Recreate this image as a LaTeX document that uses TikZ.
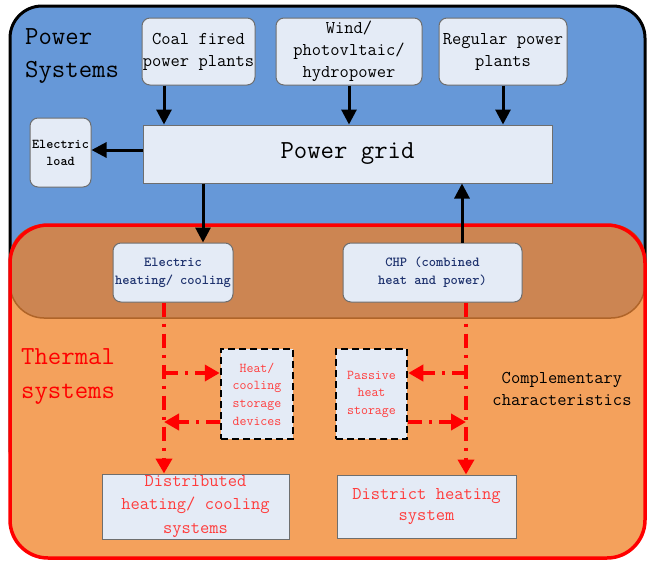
\documentclass[tikz,border=0pt]{standalone}
\usetikzlibrary{arrows.meta,calc}
\definecolor{bluebg}{RGB}{102,152,216}
\definecolor{orangebg}{RGB}{244,161,92}
\definecolor{brownbg}{RGB}{204,133,82}
\definecolor{brownline}{RGB}{176,100,40}
\definecolor{boxfill}{RGB}{228,235,246}
\definecolor{boxline}{RGB}{110,110,110}
\definecolor{navytext}{RGB}{30,50,110}
\definecolor{redtext}{RGB}{255,60,60}
\begin{document}
\begin{tikzpicture}[x=1pt,y=-1pt,
  box/.style={draw=boxline, line width=1pt, fill=boxfill, rounded corners=8pt, inner sep=0pt, align=center, font=\ttfamily},
  sqbox/.style={draw=boxline, line width=1pt, fill=boxfill, inner sep=0pt, align=center, font=\ttfamily},
  dbox/.style={draw=black, line width=2.5pt, dash pattern=on 7pt off 4pt, fill=boxfill, inner sep=0pt, align=center, font=\ttfamily, text=redtext},
  blk/.style={line width=3pt, -{Triangle[length=15pt,width=15pt]}},
  redl/.style={red, line width=4pt, dash pattern=on 14pt off 7pt on 3pt off 7pt, -{Triangle[length=15pt,width=16pt]}},
  lbl/.style={inner sep=0pt, font=\ttfamily}
]
\useasboundingbox (0,0) rectangle (648,563);
% backgrounds
\draw[line width=3pt, fill=bluebg, rounded corners=32pt] (10,6) rectangle (645,480);
\fill[orangebg, rounded corners=38pt] (10,225) rectangle (645,558);
\draw[fill=brownbg, draw=brownline, line width=1.5pt, rounded corners=34pt] (10,225) rectangle (645,318);
\draw[red, line width=3.5pt, rounded corners=38pt] (10,225) rectangle (645,558);

% section labels
\node[lbl, anchor=west, align=left, font=\ttfamily\fontsize{26}{33}\selectfont] (ps) at (25,56.5) {Power\\Systems};
\node[lbl, anchor=west, align=left, text=red, font=\ttfamily\fontsize{26}{34}\selectfont] (ts) at (21,377) {Thermal\\systems};
\node[lbl, align=center, font=\ttfamily\fontsize{18}{22}\selectfont] (cc) at (562,389) {Complementary\\characteristics};

% nodes
\node[box, minimum width=113pt, minimum height=67pt, font=\ttfamily\fontsize{18}{22}\selectfont] (coal) at (198.5,51.5) {Coal fired\\power plants};
\node[box, minimum width=146pt, minimum height=67pt, font=\ttfamily\fontsize{18}{22}\selectfont] (wind) at (349,51.5) {Wind/\\photovltaic/\\hydropower};
\node[box, minimum width=128pt, minimum height=67pt, font=\ttfamily\fontsize{18}{22}\selectfont] (reg) at (503,51.5) {Regular power\\plants};
\node[box, minimum width=61pt, minimum height=69pt, font=\ttfamily\bfseries\fontsize{13.5}{17}\selectfont] (eload) at (60.5,152.5) {Electric\\load};
\node[sqbox, minimum width=409pt, minimum height=58pt, font=\ttfamily\fontsize{26}{30}\selectfont] (grid) at (347.5,154) {Power grid};
\node[box, minimum width=120pt, minimum height=59pt, text=navytext, font=\ttfamily\bfseries\fontsize{13.8}{18}\selectfont] (eheat) at (173,272.5) {Electric\\heating/ cooling};
\node[box, minimum width=179pt, minimum height=59pt, text=navytext, font=\ttfamily\bfseries\fontsize{13.8}{18}\selectfont] (chp) at (432.5,272.5) {CHP (combined\\heat and power)};
\node[dbox, minimum width=72pt, minimum height=90pt, font=\ttfamily\fontsize{13.5}{17.7}\selectfont] (hst) at (257,394) {Heat/\\cooling\\storage\\devices};
\node[dbox, minimum width=71pt, minimum height=90pt, font=\ttfamily\fontsize{13.5}{17.5}\selectfont] (pst) at (371.5,394) {Passive\\heat\\storage};
\node[sqbox, minimum width=187pt, minimum height=65pt, text=redtext, font=\ttfamily\fontsize{18}{23.5}\selectfont] (dist) at (195.5,506.5) {Distributed\\heating/ cooling\\systems};
\node[sqbox, minimum width=179pt, minimum height=63pt, text=redtext, font=\ttfamily\fontsize{18}{21}\selectfont] (dh) at (426.5,506.5) {District heating\\system};

% black arrows
\draw[blk] ([xshift=-34.5pt]coal.south) -- ([xshift=-34.5pt]coal.south |- grid.north);
\draw[blk] (wind.south) -- (wind.south |- grid.north);
\draw[blk] (reg.south) -- (reg.south |- grid.north);
\draw[blk] ([yshift=4pt]grid.west) -- ([yshift=4pt]grid.west -| eload.east);
\draw[blk] ([xshift=30pt]eheat.north |- grid.south) -- ([xshift=30pt]eheat.north);
\draw[blk] ([xshift=29.5pt]chp.north) -- ([xshift=29.5pt]chp.north |- grid.south);

% red dash-dot arrows
\coordinate (lv1) at ([xshift=-9pt]eheat.south);
\draw[redl] (lv1) -- (lv1 |- dist.north);
\draw[redl] ([yshift=21pt]hst.west -| lv1) -- ([yshift=21pt]hst.west);
\draw[redl] ([yshift=-28pt]hst.west) -- ([yshift=-28pt]hst.west -| lv1);
\coordinate (rv1) at ([xshift=33.5pt]chp.south);
\draw[redl] (rv1) -- (rv1 |- dh.north);
\draw[redl] ([yshift=21pt]pst.east -| rv1) -- ([yshift=21pt]pst.east);
\draw[redl] ([yshift=-28pt]pst.east) -- ([yshift=-28pt]pst.east -| rv1);
\end{tikzpicture}
\end{document}
